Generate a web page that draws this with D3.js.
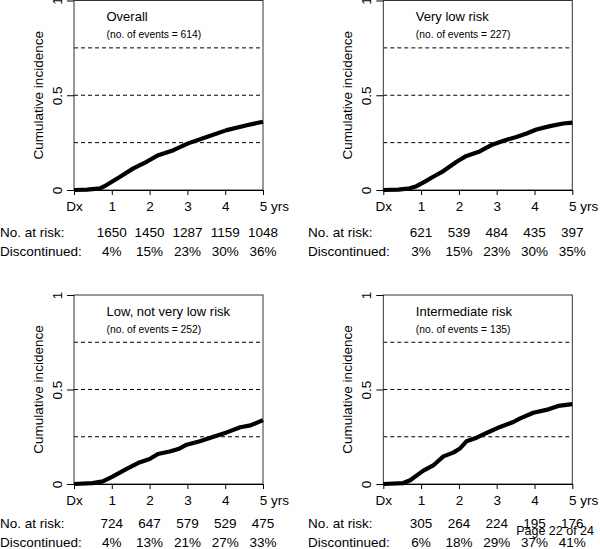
<!DOCTYPE html>
<html>
<head>
<meta charset="utf-8">
<script src="https://cdn.jsdelivr.net/npm/d3@7"></script>
<style>
  html, body { margin: 0; padding: 0; background: #fff; }
  svg { display: block; }
  text { font-family: "Liberation Sans", Arial, Helvetica, sans-serif; fill: #000; }
</style>
</head>
<body>
<svg id="chart" width="600" height="549"></svg>
<script>
// ---------- data ----------
const xTickValues = [0, 1, 2, 3, 4, 5];
const xTickLabels = ["Dx", "1", "2", "3", "4", "5"];
const yTickValues = [0, 0.5, 1];
const yTickLabels = ["0", "0.5", "1"];
const gridValues = [0.25, 0.5, 0.75];

const panelTitles = ["Overall", "Very low risk", "Low, not very low risk", "Intermediate risk"];
const eventCounts = [614, 227, 252, 135];

const atRiskOverall = [1650, 1450, 1287, 1159, 1048];
const atRiskVeryLow = [621, 539, 484, 435, 397];
const atRiskLow = [724, 647, 579, 529, 475];
const atRiskInter = [305, 264, 224, 195, 176];

const discOverall = ["4%", "15%", "23%", "30%", "36%"];
const discVeryLow = ["3%", "15%", "23%", "30%", "35%"];
const discLow = ["4%", "13%", "21%", "27%", "33%"];
const discInter = ["6%", "18%", "29%", "37%", "41%"];

const timeOverall = [0, 0.35, 0.69, 0.86, 1.22, 1.57, 1.92, 2.23, 2.63, 3.02, 3.51, 4.04, 4.57, 5];
const cumOverall  = [0, 0.002, 0.009, 0.026, 0.07, 0.114, 0.149, 0.184, 0.21, 0.246, 0.28, 0.316, 0.342, 0.36];

const timeVeryLow = [0, 0.4, 0.7, 0.88, 1.1, 1.32, 1.59, 1.94, 2.2, 2.51, 2.86, 3.22, 3.52, 3.79, 4.05, 4.41, 4.76, 5];
const cumVeryLow  = [0, 0.002, 0.009, 0.02, 0.044, 0.07, 0.1, 0.149, 0.18, 0.2, 0.237, 0.263, 0.28, 0.298, 0.319, 0.337, 0.351, 0.356];

const timeLow = [0, 0.49, 0.76, 1.02, 1.38, 1.73, 2.0, 2.22, 2.53, 2.76, 2.98, 3.33, 3.69, 4.04, 4.4, 4.67, 5];
const cumLow  = [0, 0.005, 0.014, 0.039, 0.079, 0.114, 0.132, 0.159, 0.172, 0.185, 0.208, 0.226, 0.25, 0.273, 0.3, 0.31, 0.338];

const timeInter = [0, 0.53, 0.71, 1.06, 1.32, 1.59, 1.85, 2.03, 2.2, 2.47, 2.73, 3.09, 3.44, 3.62, 3.97, 4.37, 4.63, 5];
const cumInter  = [0, 0.005, 0.02, 0.071, 0.098, 0.146, 0.166, 0.188, 0.226, 0.245, 0.27, 0.302, 0.328, 0.347, 0.377, 0.395, 0.413, 0.423];

const pageLabel = "Page 22 of 24";

// ---------- layout ----------
const panels = [
  { title: panelTitles[0], events: eventCounts[0], t: timeOverall, v: cumOverall, risk: atRiskOverall, disc: discOverall, col: 0, row: 0 },
  { title: panelTitles[1], events: eventCounts[1], t: timeVeryLow, v: cumVeryLow, risk: atRiskVeryLow, disc: discVeryLow, col: 1, row: 0 },
  { title: panelTitles[2], events: eventCounts[2], t: timeLow, v: cumLow, risk: atRiskLow, disc: discLow, col: 0, row: 1 },
  { title: panelTitles[3], events: eventCounts[3], t: timeInter, v: cumInter, risk: atRiskInter, disc: discInter, col: 1, row: 1 }
];
const colX0 = [74, 383.3];
const colX1 = [263, 572.3];
const colLabel = [0, 308];
const rowY0 = [190, 484];
const rowY1 = [0.5, 295];
const rowTable = [46.5, 43.5];
const fs = "13.5px";

const svg = d3.select("#chart");

panels.forEach(p => {
  const x = d3.scaleLinear().domain([0, 5]).range([colX0[p.col], colX1[p.col]]);
  const y = d3.scaleLinear().domain([0, 1]).range([rowY0[p.row], rowY1[p.row]]);
  const g = svg.append("g");

  // dashed reference lines
  g.selectAll("line.grid").data(gridValues).enter().append("line")
    .attr("x1", x(0)).attr("x2", x(5))
    .attr("y1", d => y(d)).attr("y2", d => y(d))
    .attr("stroke", "#000").attr("stroke-width", 1)
    .attr("stroke-dasharray", "4,3");

  // frame
  g.append("rect")
    .attr("x", x(0)).attr("y", y(1))
    .attr("width", x(5) - x(0)).attr("height", y(0) - y(1))
    .attr("fill", "none").attr("stroke", "#333").attr("stroke-width", 1);

  // x axis
  const xAxis = d3.axisBottom(x).tickValues(xTickValues)
    .tickFormat((d, i) => xTickLabels[i]).tickSize(5).tickSizeOuter(0).tickPadding(6.5);
  const gx = g.append("g").attr("transform", `translate(0,${y(0)})`).call(xAxis);
  gx.select(".domain").attr("stroke", "#000");
  gx.selectAll(".tick line").attr("stroke", "#000");
  gx.selectAll(".tick text").style("font-size", fs).attr("fill", "#000")
    .style("font-family", "'Liberation Sans', Arial, sans-serif");
  g.append("text").attr("x", x(5) + 8).attr("y", y(0) + 21)
    .style("font-size", fs).text("yrs");

  // y axis
  const yAxis = d3.axisLeft(y).tickValues(yTickValues)
    .tickFormat((d, i) => yTickLabels[i]).tickSize(7).tickSizeOuter(0);
  const gy = g.append("g").attr("transform", `translate(${x(0)},0)`).call(yAxis);
  gy.select(".domain").remove();
  gy.selectAll(".tick line").attr("stroke", "#000");
  gy.selectAll(".tick text")
    .attr("x", null).attr("dy", null)
    .attr("text-anchor", "middle")
    .attr("transform", "translate(-12,0) rotate(-90)")
    .style("font-size", fs).attr("fill", "#000")
    .style("font-family", "'Liberation Sans', Arial, sans-serif");

  // y label
  g.append("text")
    .attr("transform", `translate(${x(0) - 31},${(y(0) + y(1)) / 2}) rotate(-90)`)
    .attr("text-anchor", "middle")
    .style("font-size", "13.5px")
    .text("Cumulative incidence");

  // titles
  g.append("text").attr("x", x(0) + 32.5).attr("y", y(1) + 20.5)
    .style("font-size", "13px").text(p.title);
  g.append("text").attr("x", x(0) + 32.5).attr("y", y(1) + 37.5)
    .style("font-size", "10.3px").text(`(no. of events = ${p.events})`);

  // curve
  const line = d3.line().x(d => x(d[0])).y(d => y(d[1]));
  g.append("path")
    .datum(p.t.map((t, i) => [t, p.v[i]]))
    .attr("d", line)
    .attr("fill", "none").attr("stroke", "#000")
    .attr("stroke-width", 4.2).attr("stroke-linejoin", "round").attr("stroke-linecap", "butt");

  // risk table
  const tableY = y(0) + rowTable[p.row];
  g.append("text").attr("x", colLabel[p.col]).attr("y", tableY)
    .style("font-size", fs).text("No. at risk:");
  g.append("text").attr("x", colLabel[p.col]).attr("y", tableY + 19.5)
    .style("font-size", fs).text("Discontinued:");
  g.selectAll("text.risk").data(p.risk).enter().append("text")
    .attr("x", (d, i) => x(i + 1)).attr("y", tableY)
    .attr("text-anchor", "middle").style("font-size", fs).text(d => d);
  g.selectAll("text.disc").data(p.disc).enter().append("text")
    .attr("x", (d, i) => x(i + 1)).attr("y", tableY + 19.5)
    .attr("text-anchor", "middle").style("font-size", fs).text(d => d);
});

svg.append("text").attr("x", 594).attr("y", 535)
  .attr("text-anchor", "end").style("font-size", "12.5px").text(pageLabel);
</script>
</body>
</html>
